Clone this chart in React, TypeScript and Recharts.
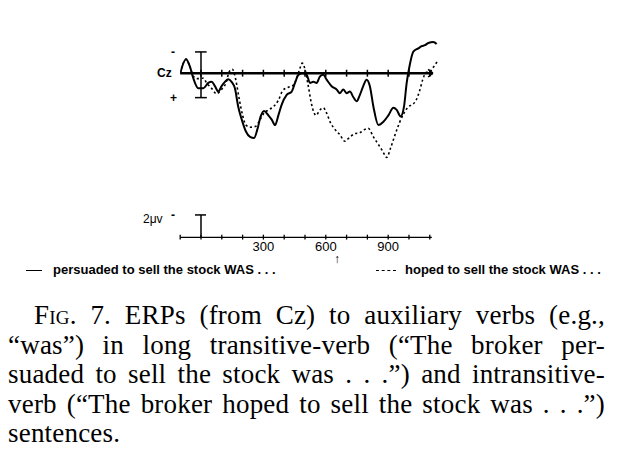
import React from 'react';
import { LineChart, Line, XAxis, YAxis, ReferenceLine } from 'recharts';

// time in ms, amplitude in microvolts (negative plotted upward)
const persuadedTimes = [-100, -72, -53, -37, -13, 11, 35, 51, 67, 83, 99, 115, 131, 147, 163, 179, 196, 216, 236, 255, 271, 287, 303, 324, 340, 356, 372, 388, 412, 436, 452, 468, 489, 508, 524, 540, 556, 572, 588, 604, 628, 652, 668, 684, 700, 716, 732, 748, 764, 780, 796, 812, 829, 853, 877, 901, 925, 941, 960, 976, 989, 1002, 1021, 1045, 1061, 1077, 1093, 1117, 1133];
const persuadedValues = [0, -1.3, -0.6, 0.46, 1.4, 1.4, 0.9, 0.8, 1.2, 1.7, 1.2, 0.8, 0.55, 0.8, 1.4, 3.1, 4.3, 5.4, 5.9, 6.0, 5.2, 4.0, 3.5, 3.9, 4.3, 4.8, 3.9, 2.9, 2.0, 1.7, 0.9, 0.15, 0, 0.15, 0.9, 0.8, 0.9, 0.3, 0.15, 0.6, 1.2, 1.5, 1.85, 1.5, 1.85, 1.7, 2.2, 2.6, 2.0, 1.2, 0.6, 1.2, 3.1, 4.8, 4.5, 3.9, 3.2, 3.4, 4.0, 3.1, 0.9, -0.6, -2.0, -2.3, -2.5, -2.6, -2.8, -2.9, -2.7];

const hopedTimes = [-100, -72, -53, -37, -13, 11, 27, 51, 75, 99, 120, 136, 151, 167, 183, 200, 216, 239, 264, 284, 303, 324, 348, 372, 393, 420, 444, 463, 476, 487, 500, 516, 532, 553, 572, 588, 604, 623, 644, 668, 692, 716, 740, 764, 788, 804, 829, 853, 873, 893, 912, 933, 954, 976, 997, 1018, 1034, 1050, 1066, 1082, 1101, 1117, 1136];
const hopedValues = [0, -1.3, -0.6, 0.3, 0.5, 0.46, 0.9, 1.4, 1.9, 1.5, 0.9, -0.15, -0.37, 0.6, 2.3, 3.9, 4.8, 5.0, 4.9, 4.3, 3.7, 3.4, 3.1, 2.5, 1.6, 1.3, 1.1, 0.3, -0.46, -0.93, -0.37, 1.2, 2.9, 3.9, 3.4, 3.2, 3.7, 4.6, 5.2, 5.7, 6.3, 5.9, 5.6, 5.5, 5.2, 5.1, 5.9, 6.6, 7.2, 7.8, 6.9, 5.7, 4.6, 3.7, 3.1, 2.9, 2.5, 1.7, 0.6, -0.06, -0.15, -0.55, -1.08];

const axisTicks = [-100, 0, 100, 200, 300, 400, 500, 600, 700, 800, 900, 1000, 1100];
const labeledTicks = [300, 600, 900];
const innerTicks = [0, 100, 200, 300, 400, 500, 600, 700, 800, 900, 1000, 1100];

const legendLabels = ['persuaded to sell the stock WAS . . .', 'hoped to sell the stock WAS . . .'];

const captionLines = [
  'ERPs (from Cz) to auxiliary verbs (e.g.,',
  '\u201Cwas\u201D) in long transitive-verb (\u201CThe broker per-',
  'suaded to sell the stock was . . .\u201D) and intransitive-',
  'verb (\u201CThe broker hoped to sell the stock was . . .\u201D)',
  'sentences.',
];

const persuadedData = persuadedTimes.map((t, i) => ({ t, v: persuadedValues[i] }));
const hopedData = hopedTimes.map((t, i) => ({ t, v: hopedValues[i] }));

const Y_MIN = -4;
const Y_MAX = 15.44;
const BOTTOM_LEVEL = 15.2;
const CAL_TOP = -1.97;
const CAL_BOTTOM = 2.26;
const CAL2_TOP = 13.12;

const serif = '"Liberation Serif", "Times New Roman", serif';
const sans = '"Liberation Sans", Arial, sans-serif';

export default function App() {
  const segs: React.ReactNode[] = [];
  // main zero axis (thick)
  segs.push(<ReferenceLine key="zero" segment={[{ x: -100, y: 0 }, { x: 1115, y: 0 }]} stroke="#000" strokeWidth={2.5} />);
  segs.push(<ReferenceLine key="arr1" segment={[{ x: 1092, y: -0.35 }, { x: 1115, y: 0 }]} stroke="#000" strokeWidth={1.5} />);
  segs.push(<ReferenceLine key="arr2" segment={[{ x: 1092, y: 0.35 }, { x: 1115, y: 0 }]} stroke="#000" strokeWidth={1.5} />);
  innerTicks.forEach((t) => {
    segs.push(<ReferenceLine key={'zt' + t} segment={[{ x: t, y: -0.32 }, { x: t, y: 0.32 }]} stroke="#000" strokeWidth={1.5} />);
  });
  // calibration bar at Cz
  segs.push(<ReferenceLine key="cal" segment={[{ x: 0, y: CAL_TOP }, { x: 0, y: CAL_BOTTOM }]} stroke="#000" strokeWidth={1.5} />);
  segs.push(<ReferenceLine key="calT" segment={[{ x: -29, y: CAL_TOP }, { x: 27, y: CAL_TOP }]} stroke="#000" strokeWidth={1.5} />);
  segs.push(<ReferenceLine key="calB" segment={[{ x: -29, y: CAL_BOTTOM }, { x: 28, y: CAL_BOTTOM }]} stroke="#000" strokeWidth={1.5} />);
  // bottom time axis
  segs.push(<ReferenceLine key="bot" segment={[{ x: -100, y: BOTTOM_LEVEL }, { x: 1110, y: BOTTOM_LEVEL }]} stroke="#000" strokeWidth={1.4} />);
  axisTicks.forEach((t) => {
    segs.push(<ReferenceLine key={'bt' + t} segment={[{ x: t, y: BOTTOM_LEVEL - 0.25 }, { x: t, y: BOTTOM_LEVEL + 0.2 }]} stroke="#000" strokeWidth={1.3} />);
  });
  segs.push(<ReferenceLine key="cal2" segment={[{ x: 0, y: CAL2_TOP }, { x: 0, y: BOTTOM_LEVEL }]} stroke="#000" strokeWidth={1.5} />);
  segs.push(<ReferenceLine key="cal2T" segment={[{ x: -29, y: CAL2_TOP }, { x: 24, y: CAL2_TOP }]} stroke="#000" strokeWidth={1.5} />);

  return (
    <div style={{ position: 'absolute', left: 0, top: 0, width: 621, height: 468, background: '#fff', overflow: 'hidden' }}>
      <div style={{ position: 'absolute', left: 0, top: 0 }}>
        <LineChart width={621} height={300} margin={{ top: 30, right: 182.9, bottom: 30, left: 180.2 }}>
          <XAxis
            type="number"
            dataKey="t"
            domain={[-100, 1140]}
            ticks={axisTicks}
            interval={0}
            tickFormatter={(v: number) => (labeledTicks.includes(v) ? String(v) : '')}
            axisLine={false}
            tickLine={false}
            tickSize={0}
            tickMargin={2}
            height={30}
            allowDataOverflow
            tick={{ fill: '#000', fontSize: 13, fontFamily: sans }}
          />
          <YAxis type="number" domain={[Y_MIN, Y_MAX]} reversed hide allowDataOverflow />
          {segs}
          <Line data={hopedData} dataKey="v" type="monotone" stroke="#000" strokeWidth={1.6} strokeDasharray="2.2 2.6" dot={false} isAnimationActive={false} />
          <Line data={persuadedData} dataKey="v" type="monotone" stroke="#000" strokeWidth={2} dot={false} isAnimationActive={false} />
        </LineChart>
      </div>

      {/* axis labels */}
      <div style={{ position: 'absolute', left: 157, top: 65, font: `bold 12px ${sans}`, lineHeight: '16px' }}>Cz</div>
      <div style={{ position: 'absolute', left: 171, top: 44, font: `bold 12px ${sans}`, lineHeight: '16px' }}>-</div>
      <div style={{ position: 'absolute', left: 170, top: 90, font: `bold 12px ${sans}`, lineHeight: '16px' }}>+</div>
      <div style={{ position: 'absolute', left: 143, top: 211, font: `12px ${sans}`, lineHeight: '16px' }}>2μv</div>
      <div style={{ position: 'absolute', left: 171, top: 207, font: `bold 12px ${sans}`, lineHeight: '16px' }}>-</div>
      <div style={{ position: 'absolute', left: 334, top: 252, font: `12px ${sans}`, lineHeight: '14px' }}>↑</div>

      {/* legend */}
      <div style={{ position: 'absolute', left: 26, top: 270, width: 16, borderTop: '1.5px solid #000' }} />
      <div style={{ position: 'absolute', left: 53, top: 262, font: `bold 13px ${sans}`, lineHeight: '16px', whiteSpace: 'nowrap' }}>{legendLabels[0]}</div>
      <div style={{ position: 'absolute', left: 376, top: 270, width: 20, borderTop: '1.3px dashed #000' }} />
      <div style={{ position: 'absolute', left: 405, top: 262, font: `bold 13px ${sans}`, lineHeight: '16px', whiteSpace: 'nowrap' }}>{legendLabels[1]}</div>

      {/* caption */}
      {captionLines.map((line, i) => {
        const last = i === captionLines.length - 1;
        return (
          <div
            key={i}
            style={{
              position: 'absolute',
              left: i === 0 ? 34 : 8,
              top: 301 + i * 29.5,
              width: i === 0 ? 571 : 597,
              font: `27px ${serif}`,
              letterSpacing: '0.2px',
              lineHeight: '29.5px',
              textAlign: last ? 'left' : 'justify',
              textAlignLast: last ? 'left' : 'justify',
              color: '#000',
            }}
          >
            {i === 0 ? (
              <>
                <span style={{ fontVariant: 'small-caps' }}>Fig</span>. 7. {line}
              </>
            ) : (
              line
            )}
          </div>
        );
      })}
    </div>
  );
}
